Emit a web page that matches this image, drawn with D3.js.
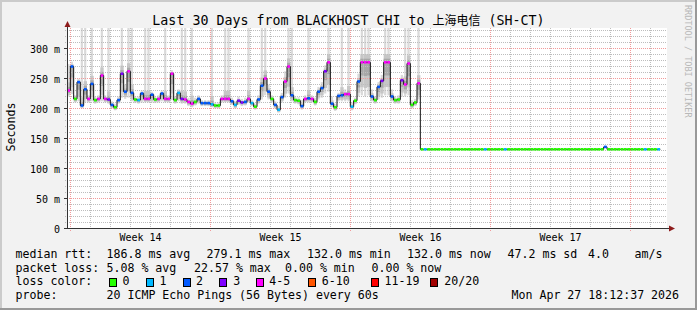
<!DOCTYPE html>
<html><head><meta charset="utf-8">
<script src="https://cdn.jsdelivr.net/npm/d3@7"></script>
<style>html,body{margin:0;padding:0;background:#f2f2f2;} svg{display:block} text{white-space:pre}</style>
</head><body><svg id="c" width="697" height="310"></svg>
<script>
// ---------------- data ----------------
const titleText = ["Last 30 Days from BLACKHOST CHI to ", "上海电信", " (SH-CT)"];
const yAxisTitle = "Seconds";
const watermark = "RRDTOOL / TOBI OETIKER";
const startTime = Date.UTC(2026, 2, 29, 19, 48);   // left edge of graph
const spanDays = 30;
const sampleHours = 4;
const yMax = 1000 / 3;                               // ms
const yTickValues = [0, 50, 100, 150, 200, 250, 300];
const yTickLabels = ["0", "50 m", "100 m", "150 m", "200 m", "250 m", "300 m"];

// median RTT (ms) per 4h sample
const median = [
 230,270,216,244,205,232,216,241,214,216,
 255,216,215,206,202,214,258,228,262,226,
 215,214,225,216,216,223,215,216,225,216,
 216,258,214,226,216,215,211,208,211,216,
 209,209,209,207,205,205,216,216,216,212,
 206,213,210,211,216,209,203,215,238,250,
 228,216,206,198,219,245,270,222,214,213,
 204,216,217,216,211,228,234,262,277,208,
 202,221,222,224,224,203,213,245,277,277,
 277,220,214,236,246,277,277,220,214,215,
 247,240,275,206,210,242,
 132,132,132,132,132,132,132,132,132,132,
 132,132,132,132,132,132,132,132,132,132,
 132,132,132,132,132,132,132,132,132,132,
 132,132,132,132,132,132,132,132,132,132,
 132,132,132,132,132,132,132,132,132,132,
 132,132,132,132,132,136,132,132,132,132,
 132,132,132,132,132,132,132,132,132,132,
 132,132
];
// lost pings (of 20) per sample
const lossCount = [
 4,2,0,2,2,2,4,2,0,4,
 4,4,3,2,0,2,3,2,4,2,
 0,1,2,4,4,2,0,4,2,4,
 4,4,0,1,3,4,4,4,0,2,
 2,2,2,1,0,0,4,4,4,2,
 1,3,3,2,4,1,0,2,2,4,
 2,0,2,1,2,4,4,2,0,0,
 2,4,2,4,0,2,2,3,4,2,
 0,2,2,4,4,1,0,2,4,4,
 4,2,0,2,3,4,4,2,0,0,
 3,4,4,0,0,4,
 0,1,0,0,0,0,0,0,0,0,
 0,0,0,0,0,0,0,0,0,1,
 0,0,0,0,0,1,0,0,0,0,
 0,0,0,0,0,0,0,0,0,0,
 0,0,0,0,0,0,0,0,0,0,
 0,0,0,0,0,2,0,0,0,0,
 0,0,0,0,0,0,0,1,0,0,
 0,1
];
// smoke extent (lowest / highest ping, ms) for the samples that show smoke
const pingLow = [
 220,224,210,212,200,210,210,212,208,210,
 212,210,208,200,197,208,218,216,218,212,
 209,208,210,210,210,210,209,210,212,210,
 210,214,208,212,208,208,204,202,205,208,
 204,204,204,202,200,200,210,210,210,206,
 200,206,204,205,210,204,198,208,215,222,
 215,210,200,193,210,218,225,212,208,207,
 198,210,210,210,205,215,218,225,228,202,
 196,212,212,212,212,197,207,220,222,220,
 222,212,208,215,218,222,222,212,208,208,
 220,220,222,200,204,215
];
const pingHigh = [
 274,278,222,250,400,400,222,400,220,222,
 400,222,400,212,208,220,400,240,400,400,
 220,220,230,400,400,228,220,222,230,400,
 222,264,220,232,400,400,218,400,218,222,
 214,214,214,400,210,210,222,400,400,218,
 212,220,216,218,400,214,208,222,400,400,
 240,222,212,204,226,262,400,400,220,219,
 214,222,400,222,218,236,244,272,400,220,
 208,226,400,232,400,210,218,258,400,400,
 400,232,220,244,256,400,400,232,220,222,
 256,400,400,214,216,400
];
const lossLegend = ["0", "1", "2", "3", "4-5", "6-10", "11-19", "20/20"];
const lossColors = ["#26ff00", "#00b8ff", "#0059ff", "#7e00ff", "#ff00ff", "#ff5500", "#ff0000", "#a10000"];
const lossUpper = [0, 1, 2, 3, 5, 10, 19, 20];
const statsRows = [
  ["median rtt:", ["186.8 ms avg", "279.1 ms max", "132.0 ms min", "132.0 ms now", "47.2 ms sd", "4.0", "am/s"]],
  ["packet loss:", ["5.08 % avg", "22.57 % max", "0.00 % min", "0.00 % now"]],
];
const probeText = "20 ICMP Echo Pings (56 Bytes) every 60s";
const stampText = "Mon Apr 27 18:12:37 2026";

// ---------------- drawing ----------------
const W = 697, H = 310;
const mono = "'DejaVu Sans Mono', monospace";
const svg = d3.select("#c");
const L = 67, R = 667, T = 28, B = 228;
const endTime = startTime + spanDays * 864e5;
const x = d3.scaleUtc().domain([startTime, endTime]).range([L, R]);
const y = d3.scaleLinear().domain([0, yMax]).range([B + 0.5, T + 0.5]);
const tOf = i => new Date(startTime + i * sampleHours * 36e5);
const colorOf = n => lossColors[lossUpper.findIndex(u => n <= u)];

svg.append("rect").attr("width", W).attr("height", H).attr("fill", "#f2f2f2");
svg.append("rect").attr("x", 0).attr("y", 0).attr("width", W).attr("height", 2).attr("fill", "#cbcbcb");
svg.append("rect").attr("x", 0).attr("y", 0).attr("width", 2).attr("height", H).attr("fill", "#cbcbcb");
svg.append("rect").attr("x", 0).attr("y", H - 2).attr("width", W).attr("height", 2).attr("fill", "#999");
svg.append("rect").attr("x", W - 2).attr("y", 0).attr("width", 2).attr("height", H).attr("fill", "#999");

svg.append("rect").attr("x", L).attr("y", T).attr("width", R - L).attr("height", B - T).attr("fill", "#fff");
svg.append("clipPath").attr("id", "pc").append("rect").attr("x", L).attr("y", T).attr("width", R - L).attr("height", B - T + 1);

// smoke
const smoke = svg.append("g").attr("clip-path", "url(#pc)");
pingLow.forEach((lo, i) => {
  const hi = pingHigh[i], m = median[i];
  const x0 = x(tOf(i)), x1 = x(tOf(i + 1));
  const w = x1 - x0;
  smoke.append("rect").attr("x", x0 + 0.4).attr("width", w - 1.1)
    .attr("y", y(hi)).attr("height", Math.max(0, y(lo) - y(hi))).attr("fill", "#dadada");
  const layers = [
    [m - (m - lo) * 0.75, m + Math.min(hi - m, 30) * 0.45, "#c6c6c6"],
    [m - (m - lo) * 0.4, m + Math.min(hi - m, 30) * 0.2, "#a8a8a8"],
  ];
  layers.forEach(([a, b, c]) => {
    smoke.append("rect").attr("x", x0).attr("width", w)
      .attr("y", y(b)).attr("height", Math.max(0, y(a) - y(b))).attr("fill", c);
  });
});

// grid
const grid = svg.append("g").attr("fill", "none").attr("stroke-dasharray", "1,1");
const minorY = d3.range(10, yMax, 10).filter(v => v % 50 !== 0);
grid.selectAll(".hm").data(minorY).join("line")
  .attr("x1", L - 2).attr("x2", R).attr("y1", d => y(d)).attr("y2", d => y(d))
  .attr("stroke", "#bdbdbd");
const days = d3.utcDay.range(new Date(startTime), new Date(endTime));
const mondays = d3.utcMonday.range(new Date(startTime), new Date(endTime));
grid.selectAll(".vm").data(days.filter(d => d.getUTCDay() !== 1)).join("line")
  .attr("x1", d => Math.floor(x(d)) + 0.5).attr("x2", d => Math.floor(x(d)) + 0.5)
  .attr("y1", T).attr("y2", B + 2).attr("stroke", "#bdbdbd");
grid.selectAll(".hM").data(yTickValues.slice(1)).join("line")
  .attr("x1", L - 2).attr("x2", R).attr("y1", d => y(d)).attr("y2", d => y(d))
  .attr("stroke", "#f29a9a");
grid.selectAll(".vM").data(mondays).join("line")
  .attr("x1", d => Math.floor(x(d)) + 0.5).attr("x2", d => Math.floor(x(d)) + 0.5)
  .attr("y1", T).attr("y2", B + 3).attr("stroke", "#f29a9a");

// median line
const pts = median.map((m, i) => [x(tOf(i)), y(m)]);
pts.push([x(tOf(median.length)), y(median[median.length - 1])]);
const lineG = svg.append("g").attr("clip-path", "url(#pc)");
lineG.append("path").attr("d", d3.line().curve(d3.curveStepAfter)(pts))
  .attr("fill", "none").attr("stroke", "#111").attr("stroke-width", 1);
median.forEach((m, i) => {
  lineG.append("line").attr("x1", x(tOf(i)) + 0.3).attr("x2", x(tOf(i + 1)) - 0.3)
    .attr("y1", y(m)).attr("y2", y(m))
    .attr("stroke", colorOf(lossCount[i])).attr("stroke-width", 2.6);
});

// axes
const axisCol = "#333", arrowCol = "#8e1c1c";
svg.append("line").attr("x1", L + 0.5).attr("x2", L + 0.5).attr("y1", B + 1).attr("y2", T - 4).attr("stroke", axisCol);
svg.append("line").attr("x1", L - 3).attr("x2", R + 4).attr("y1", B + 0.5).attr("y2", B + 0.5).attr("stroke", axisCol);
svg.selectAll(".yt").data(yTickValues).join("line")
  .attr("x1", L - 3).attr("x2", L).attr("y1", d => y(d)).attr("y2", d => y(d)).attr("stroke", axisCol);
svg.append("path").attr("d", `M${L + 0.5},${T - 7}L${L - 2.5},${T - 1}L${L + 3.5},${T - 1}Z`).attr("fill", arrowCol);
svg.append("path").attr("d", `M${R + 8},${B + 0.5}L${R + 2},${B - 2.5}L${R + 2},${B + 3.5}Z`).attr("fill", arrowCol);

// axis labels
svg.selectAll(".yl").data(yTickValues).join("text")
  .attr("x", 60).attr("y", d => y(d) + 4).attr("text-anchor", "end")
  .attr("font-family", mono).attr("font-size", 10).attr("fill", "#000")
  .text((d, i) => yTickLabels[i]);
const weekFmt = d3.utcFormat("Week %V");
svg.selectAll(".xl").data(mondays.filter(d => +d + 3.5 * 864e5 < endTime)).join("text")
  .attr("x", d => x(new Date(+d + 3.5 * 864e5))).attr("y", 241).attr("text-anchor", "middle")
  .attr("font-family", mono).attr("font-size", 10).attr("fill", "#000")
  .text(d => weekFmt(d));

svg.append("text").attr("transform", "translate(15,127) rotate(-90)").attr("text-anchor", "middle")
  .attr("font-family", mono).attr("font-size", 11.6).attr("fill", "#000").text(yAxisTitle);
svg.append("text").attr("transform", "translate(684.5,5) rotate(90)")
  .attr("font-family", mono).attr("font-size", 8.5).attr("fill", "#b8b8b8").text(watermark);

// title
const tt = svg.append("text").attr("x", 348.5).attr("y", 25).attr("text-anchor", "middle")
  .attr("font-family", mono).attr("font-size", 13.3).attr("fill", "#000");
tt.append("tspan").text(titleText[0]);
tt.append("tspan").attr("font-family", "'Noto Sans CJK SC', sans-serif").attr("font-size", 12).text(titleText[1]);
tt.append("tspan").text(titleText[2]);

// legend
const lg = svg.append("g").attr("font-family", mono).attr("font-size", 11.6).attr("fill", "#000");
const rowY = [258, 271.7, 285.3, 299];
const row1X = [106.5, 206.5, 307, 407, 507.5, 588, 634.5];
const row2X = [106.5, 194, 285, 371.5];
[row1X, row2X].forEach((xs, r) => {
  lg.append("text").attr("x", 15.5).attr("y", rowY[r]).text(statsRows[r][0]);
  statsRows[r][1].forEach((s, j) => lg.append("text").attr("x", xs[j]).attr("y", rowY[r]).text(s));
});
lg.append("text").attr("x", 15.5).attr("y", rowY[2]).text("loss color:");
const boxX = [109, 146, 182.7, 219.3, 255.7, 307.7, 371, 430];
const labX = [122.5, 159.5, 196, 233.3, 269.3, 321.7, 384.5, 444.3];
lossLegend.forEach((s, k) => {
  lg.append("rect").attr("x", Math.round(boxX[k]) + 0.5).attr("y", 278.5).attr("width", 7).attr("height", 8)
    .attr("fill", lossColors[k]).attr("stroke", "#000");
  lg.append("text").attr("x", labX[k]).attr("y", rowY[2]).text(s);
});
lg.append("text").attr("x", 15.5).attr("y", rowY[3]).text("probe:");
lg.append("text").attr("x", 106.5).attr("y", rowY[3]).text(probeText);
lg.append("text").attr("x", 511.5).attr("y", rowY[3]).text(stampText);
</script></body></html>
